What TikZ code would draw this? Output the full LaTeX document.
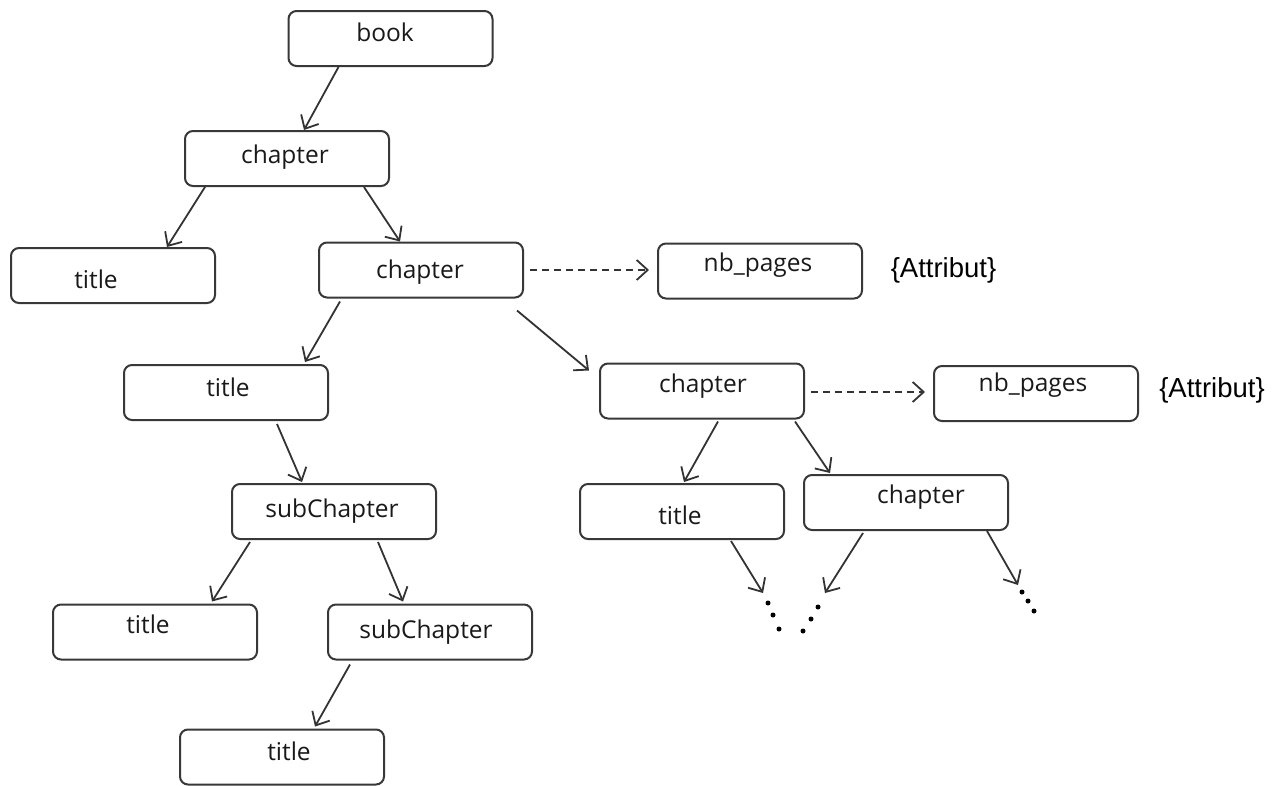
\documentclass[tikz,border=0pt]{standalone}
\usepackage{fontspec}
\setmainfont{Open Sans}
\newfontfamily\attrfont{Liberation Sans}
\usetikzlibrary{arrows.meta}

\tikzset{
  box/.style={draw=black!78, line width=2pt, rounded corners=8pt,
    minimum width=204pt, minimum height=55pt, inner sep=0pt},
  lbl/.style={font=\fontsize{24.5}{28}\selectfont, text=black!90, inner sep=0pt},
  attr/.style={font=\attrfont\fontsize{27.5}{32}\selectfont, inner sep=0pt},
  arr/.style={draw=black!80, line width=1.8pt,
    -{Straight Barb[length=11pt,width=20pt,line width=1.8pt]}},
  darr/.style={arr, dashed, dash pattern=on 7pt off 5pt},
  dotmark/.style={circle, fill=black, inner sep=0pt, minimum size=5pt},
}

\begin{document}
\begin{tikzpicture}[x=1pt,y=-1pt]
\useasboundingbox (0,0) rectangle (1285,785);

% element boxes
\node[box] (book) at (390.5,38.5) {};
\node[lbl] at (385,32) {book};
\node[box] (ch1) at (287,158.5) {};
\node[lbl] at (285,157) {chapter};
\node[box] (ti1) at (113,275.5) {};
\node[lbl] at (96,279) {title};
\node[box] (ch2) at (421,270) {};
\node[lbl] at (420,272) {chapter};
\node[box] (nb1) at (760,271) {};
\node[lbl] at (758,265) {nb\_pages};
\node[attr] at (943.5,270) {\{Attribut\}};
\node[box] (ti2) at (226,392.5) {};
\node[lbl] at (228,387) {title};
\node[box] (ch3) at (702,391) {};
\node[lbl] at (703,386) {chapter};
\node[box] (nb2) at (1036,393.5) {};
\node[lbl] at (1033,385) {nb\_pages};
\node[attr] at (1212,390) {\{Attribut\}};
\node[box] (sc1) at (334,511.5) {};
\node[lbl] at (332,511) {subChapter};
\node[box] (ti3) at (682,511.5) {};
\node[lbl] at (680,515) {title};
\node[box] (ch4) at (906,502.5) {};
\node[lbl] at (921,497) {chapter};
\node[box] (ti4) at (155,632) {};
\node[lbl] at (148,624) {title};
\node[box] (sc2) at (430,632) {};
\node[lbl] at (426,632) {subChapter};
\node[box] (ti5) at (282,757) {};
\node[lbl] at (289,751) {title};

% continuation marks
\node[dotmark] (d1a) at (768,603) {};
\node[dotmark] (d1b) at (773,615) {};
\node[dotmark] (d1c) at (779,629) {};
\node[dotmark] (d2a) at (818,607) {};
\node[dotmark] (d2b) at (811,619) {};
\node[dotmark] (d2c) at (803,631) {};
\node[dotmark] (d3a) at (1022,592) {};
\node[dotmark] (d3b) at (1028,601) {};
\node[dotmark] (d3c) at (1034,611) {};
\coordinate (e1) at (763,593);
\coordinate (e2) at (825,593);
\coordinate (e3) at (1018,585);

% hierarchy links
\draw[arr] ([xshift=-52pt]book.south) -- ([xshift=17pt]ch1.north);
\draw[arr] ([xshift=-82pt]ch1.south) -- ([xshift=54pt]ti1.north);
\draw[arr] ([xshift=77pt]ch1.south) -- ([xshift=-21pt]ch2.north);
\draw[arr] ([xshift=-81pt,yshift=-3pt]ch2.south) -- ([xshift=79pt,yshift=2pt]ti2.north);
\draw[arr] ([xshift=96pt,yshift=-12pt]ch2.south) -- ([xshift=-10pt,yshift=-8pt]ch3.north west);
\draw[arr] ([xshift=51pt,yshift=-3pt]ti2.south) -- ([xshift=-32pt,yshift=1pt]sc1.north);
\draw[arr] ([xshift=16pt,yshift=-2pt]ch3.south) -- ([xshift=2pt,yshift=1pt]ti3.north);
\draw[arr] ([xshift=93pt,yshift=-2pt]ch3.south) -- ([xshift=-76pt,yshift=1pt]ch4.north);
\draw[arr] ([xshift=-84pt,yshift=-2pt]sc1.south) -- ([xshift=57pt,yshift=2pt]ti4.north);
\draw[arr] ([xshift=44pt,yshift=-2pt]sc1.south) -- ([xshift=-27pt,yshift=2pt]sc2.north);
\draw[arr] ([xshift=-80pt,yshift=-4pt]sc2.south) -- ([xshift=33pt,yshift=2pt]ti5.north);
\draw[arr] ([xshift=49pt,yshift=-1pt]ti3.south) -- (e1);
\draw[arr] ([xshift=-43pt,yshift=-2pt]ch4.south) -- (e2);
\draw[arr] ([xshift=81pt]ch4.south) -- (e3);

% attribute links
\draw[darr] ([xshift=6pt]ch2.east) -- ([xshift=-8pt,yshift=1pt]nb1.west);
\draw[darr] ([xshift=6pt,yshift=-1pt]ch3.east) -- ([xshift=-8pt,yshift=1.5pt]nb2.west);
\end{tikzpicture}
\end{document}
